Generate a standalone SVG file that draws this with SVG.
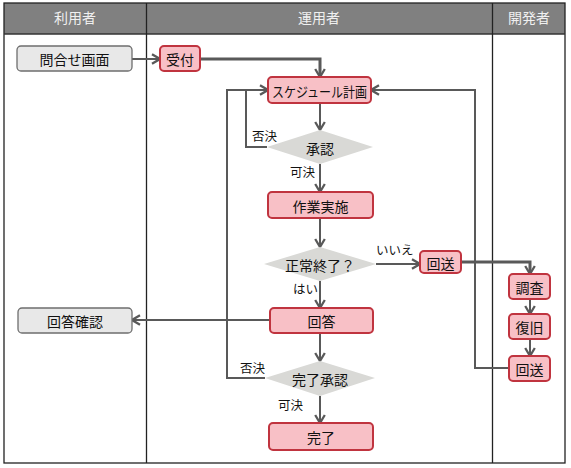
<svg xmlns="http://www.w3.org/2000/svg" width="571" height="468" viewBox="0 0 571 468">
<defs>
<marker id="ar" viewBox="0 0 12 12" markerWidth="12" markerHeight="12" markerUnits="userSpaceOnUse" refX="10" refY="6" orient="auto">
<path d="M2,1.2 L10,6 L2,10.8" fill="none" stroke="#595959" stroke-width="2.3"/>
</marker>
</defs>
<style>
text{font-family:"Noto Sans CJK JP","Noto Sans",sans-serif;}
.hd{fill:#f0f0f0;font-size:14px;text-anchor:middle;}
.nt{fill:#111;font-size:14px;text-anchor:middle;dominant-baseline:central;}
.lb{fill:#111;font-size:12.5px;}
.gray{fill:#e8e8e8;stroke:#6e6e6e;stroke-width:1.3;}
.pink{fill:#f8c0c6;stroke:#c0343f;stroke-width:2;}
.dia{fill:#d9d9d6;stroke:none;}
.c{fill:none;stroke:#595959;stroke-width:2;}
.ca{fill:none;stroke:#595959;stroke-width:2;marker-end:url(#ar);}
.ct{fill:none;stroke:#595959;stroke-width:3;marker-end:url(#ar);}
</style>
<rect x="0" y="0" width="571" height="468" fill="#ffffff"/>
<g id="lanes">
<rect x="4" y="3" width="561" height="31" fill="#808080"/>
<rect x="4" y="3" width="561" height="460" fill="none" stroke="#222" stroke-width="1.3"/>
<line x1="4" y1="34" x2="565" y2="34" stroke="#333" stroke-width="1.3"/>
<line x1="146.5" y1="3" x2="146.5" y2="463" stroke="#222" stroke-width="1.3"/>
<line x1="492.5" y1="3" x2="492.5" y2="463" stroke="#222" stroke-width="1.3"/>
<text class="hd" x="75" y="23">利用者</text>
<text class="hd" x="319" y="23">運用者</text>
<text class="hd" x="529" y="23">開発者</text>
</g>
<g id="connectors">
<line class="ca" x1="132" y1="59" x2="160" y2="59"/>
<polyline class="ct" points="200,59 320,59 320,77"/>
<line class="ca" x1="320" y1="103" x2="320" y2="130"/>
<polyline class="ca" points="267,147 246,147 246,90 268,90"/>
<line class="ca" x1="320" y1="164" x2="320" y2="192"/>
<line class="ca" x1="320" y1="218" x2="320" y2="247"/>
<line class="ca" x1="376" y1="264" x2="420" y2="264"/>
<line class="ca" x1="320" y1="281" x2="320" y2="308"/>
<polyline class="ct" points="461,262 530,262 530,274"/>
<line class="ca" x1="530" y1="299" x2="530" y2="314"/>
<line class="ca" x1="530" y1="339" x2="530" y2="356"/>
<polyline class="ca" points="509,368 475,368 475,90 371,90"/>
<line class="ca" x1="270" y1="320" x2="132" y2="320"/>
<line class="ca" x1="320" y1="333" x2="320" y2="361"/>
<polyline class="c" points="265,378 227,378 227,90 246,90"/>
<line class="ca" x1="320" y1="396" x2="320" y2="423"/>
<text class="lb" x="252" y="141">否決</text>
<text class="lb" x="290" y="177">可決</text>
<text class="lb" x="376" y="255">いいえ</text>
<text class="lb" x="293" y="294">はい</text>
<text class="lb" x="240" y="373">否決</text>
<text class="lb" x="278" y="410">可決</text>
</g>
<g id="n-toiawase"><rect class="gray" x="17" y="46" width="115" height="25" rx="4"/><text class="nt" x="74.5" y="59">問合せ画面</text></g>
<g id="n-uketsuke"><rect class="pink" x="160" y="46" width="40" height="25" rx="4"/><text class="nt" x="180" y="59">受付</text></g>
<g id="n-schedule"><rect class="pink" x="268" y="77" width="103" height="26" rx="4"/><text class="nt" x="319.5" y="90.5" textLength="95" lengthAdjust="spacingAndGlyphs">スケジュール計画</text></g>
<g id="n-shonin"><polygon class="dia" points="320,130 373,147 320,164 267,147"/><text class="nt" x="320" y="147.5">承認</text></g>
<g id="n-sagyo"><rect class="pink" x="268" y="192" width="105" height="26" rx="4"/><text class="nt" x="320.5" y="205.5">作業実施</text></g>
<g id="n-seijo"><polygon class="dia" points="320,247 376,264 320,281 264,264"/><text class="nt" x="320" y="264.5">正常終了？</text></g>
<g id="n-kaiso1"><rect class="pink" x="420" y="251" width="41" height="22" rx="4"/><text class="nt" x="440.5" y="262.5">回送</text></g>
<g id="n-kaito"><rect class="pink" x="270" y="308" width="103" height="25" rx="4"/><text class="nt" x="321.5" y="321">回答</text></g>
<g id="n-chosa"><rect class="pink" x="509" y="274" width="41" height="25" rx="4"/><text class="nt" x="529.5" y="287">調査</text></g>
<g id="n-fukkyu"><rect class="pink" x="509" y="314" width="41" height="25" rx="4"/><text class="nt" x="529.5" y="327">復旧</text></g>
<g id="n-kaiso2"><rect class="pink" x="509" y="356" width="41" height="25" rx="4"/><text class="nt" x="529.5" y="369">回送</text></g>
<g id="n-kaitokakunin"><rect class="gray" x="18" y="308" width="114" height="25" rx="4"/><text class="nt" x="75" y="321">回答確認</text></g>
<g id="n-kanryoshonin"><polygon class="dia" points="320,361 375,378 320,396 265,378"/><text class="nt" x="320" y="379">完了承認</text></g>
<g id="n-kanryo"><rect class="pink" x="269" y="423" width="104" height="27" rx="4"/><text class="nt" x="321" y="437">完了</text></g>
</svg>
